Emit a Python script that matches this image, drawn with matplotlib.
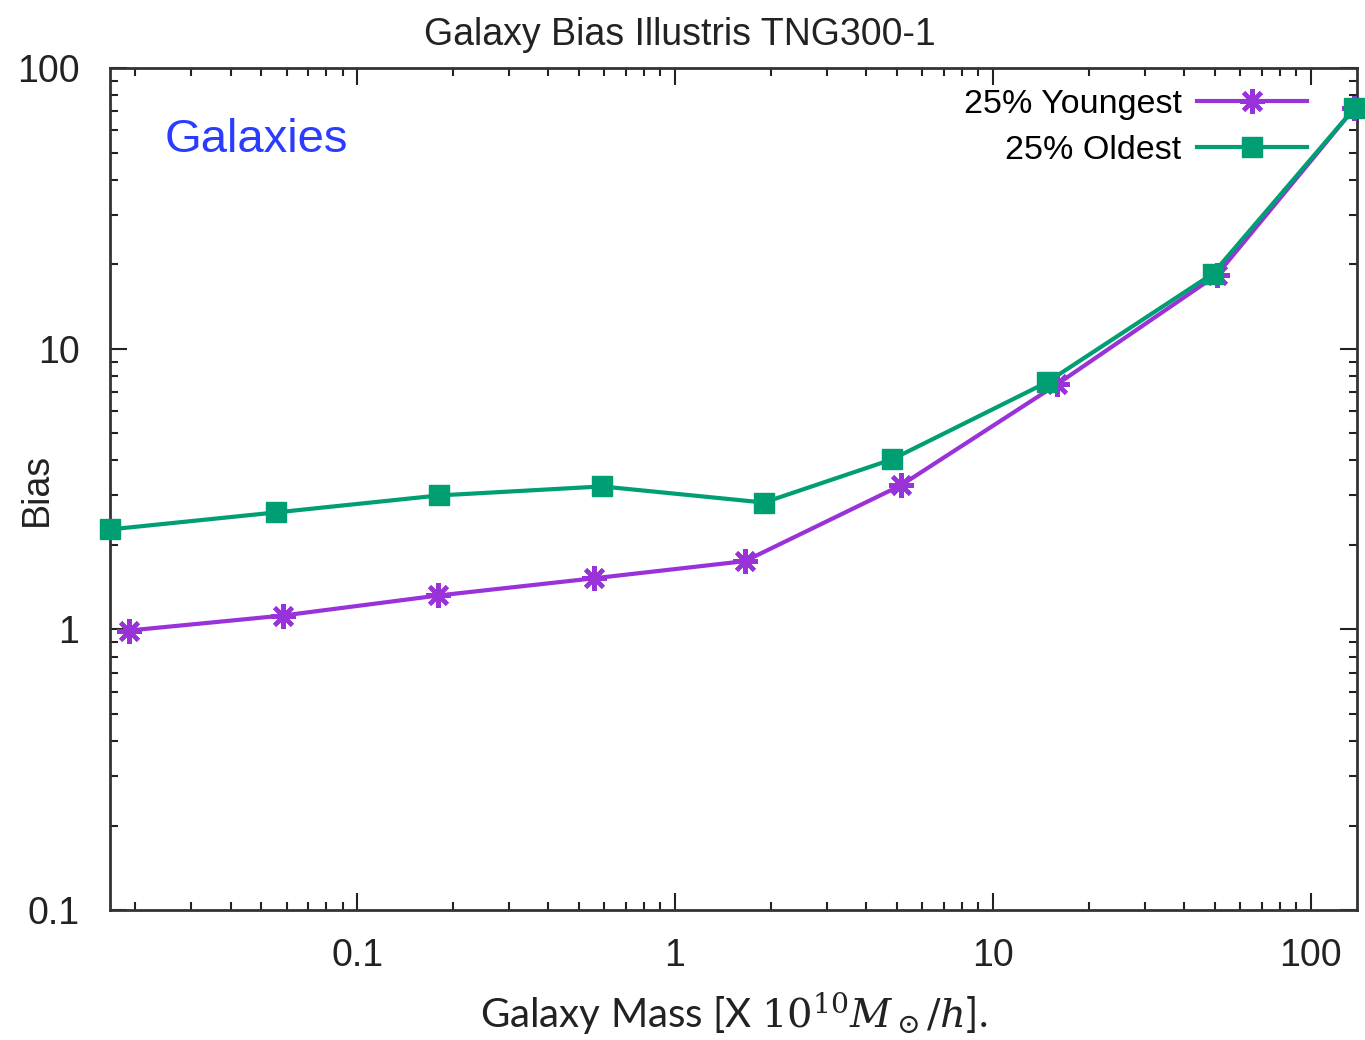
import matplotlib
matplotlib.use('Agg')
import matplotlib.pyplot as plt
from matplotlib.ticker import LogLocator, FixedLocator, FixedFormatter, NullFormatter

plt.rcParams['font.family'] = ['Liberation Sans', 'DejaVu Sans']
plt.rcParams['mathtext.fontset'] = 'dejavuserif'

# data
mass_young = [0.0191, 0.0585, 0.180, 0.556, 1.66, 5.14, 15.9, 50.6, 137]
bias_young = [0.99, 1.12, 1.32, 1.52, 1.75, 3.26, 7.46, 18.3, 71.8]
mass_old = [0.0167, 0.0556, 0.181, 0.589, 1.905, 4.81, 14.8, 49.2, 137]
bias_old = [2.27, 2.61, 3.00, 3.23, 2.83, 4.03, 7.59, 18.5, 71.8]
xticks = [0.1, 1, 10, 100]
xtick_labels = ['0.1', '1', '10', '100']
yticks = [0.1, 1, 10, 100]
ytick_labels = ['0.1', '1', '10', '100']

purple = '#9932d8'
green = '#009e73'
ink = '#222222'

fig = plt.figure(figsize=(13.65, 10.40), dpi=100)
ax = fig.add_axes([0.0806, 0.125, 0.9134, 0.8096])

ax.plot(mass_young, bias_young, color=purple, lw=3, marker=(8, 2, 0),
        ms=18, mew=3, label='25% Youngest', clip_on=False, zorder=3)
ax.plot(mass_old, bias_old, color=green, lw=3, marker='s', ms=14,
        label='25% Oldest', clip_on=False, zorder=4)

ax.set_xscale('log')
ax.set_yscale('log')
ax.set_xlim(0.0167, 139.6)
ax.set_ylim(0.1, 100)

ax.xaxis.set_major_locator(FixedLocator(xticks))
ax.xaxis.set_major_formatter(FixedFormatter(xtick_labels))
ax.yaxis.set_major_locator(FixedLocator(yticks))
ax.yaxis.set_major_formatter(FixedFormatter(ytick_labels))
ax.xaxis.set_minor_locator(LogLocator(base=10, subs=range(2, 10), numticks=20))
ax.yaxis.set_minor_locator(LogLocator(base=10, subs=range(2, 10), numticks=20))
ax.xaxis.set_minor_formatter(NullFormatter())
ax.yaxis.set_minor_formatter(NullFormatter())

ax.tick_params(which='both', direction='in', top=True, right=True,
               labelsize=27, colors=ink, width=1.5)
ax.tick_params(which='major', length=12)
ax.tick_params(axis='x', which='major', pad=20)
ax.tick_params(axis='y', which='major', pad=22)
ax.tick_params(which='minor', length=6)
for s in ax.spines.values():
    s.set_linewidth(2)
    s.set_color('#333333')

fig.text(0.498, 0.966, 'Galaxy Bias Illustris TNG300-1', fontsize=27,
         color=ink, ha='center', va='center')
ax.set_ylabel('Bias', fontsize=27, color=ink)
ax.yaxis.set_label_coords(-0.044, 0.5)
ax.set_xlabel(r'Galaxy Mass [X $10^{10}M_\odot/h$].', fontsize=29,
              color=ink, labelpad=12, family=['Lato', 'DejaVu Sans'])

ax.text(0.044, 0.915, 'Galaxies', transform=ax.transAxes, fontsize=34,
        color='#2a3cff', va='center', ha='left')

leg = ax.legend(loc='upper right', bbox_to_anchor=(0.985, 1.012), frameon=False,
                markerfirst=False, fontsize=24.5, handlelength=3.25,
                labelspacing=0.45, handletextpad=0.45)

fig.savefig('out.png', dpi=100)
